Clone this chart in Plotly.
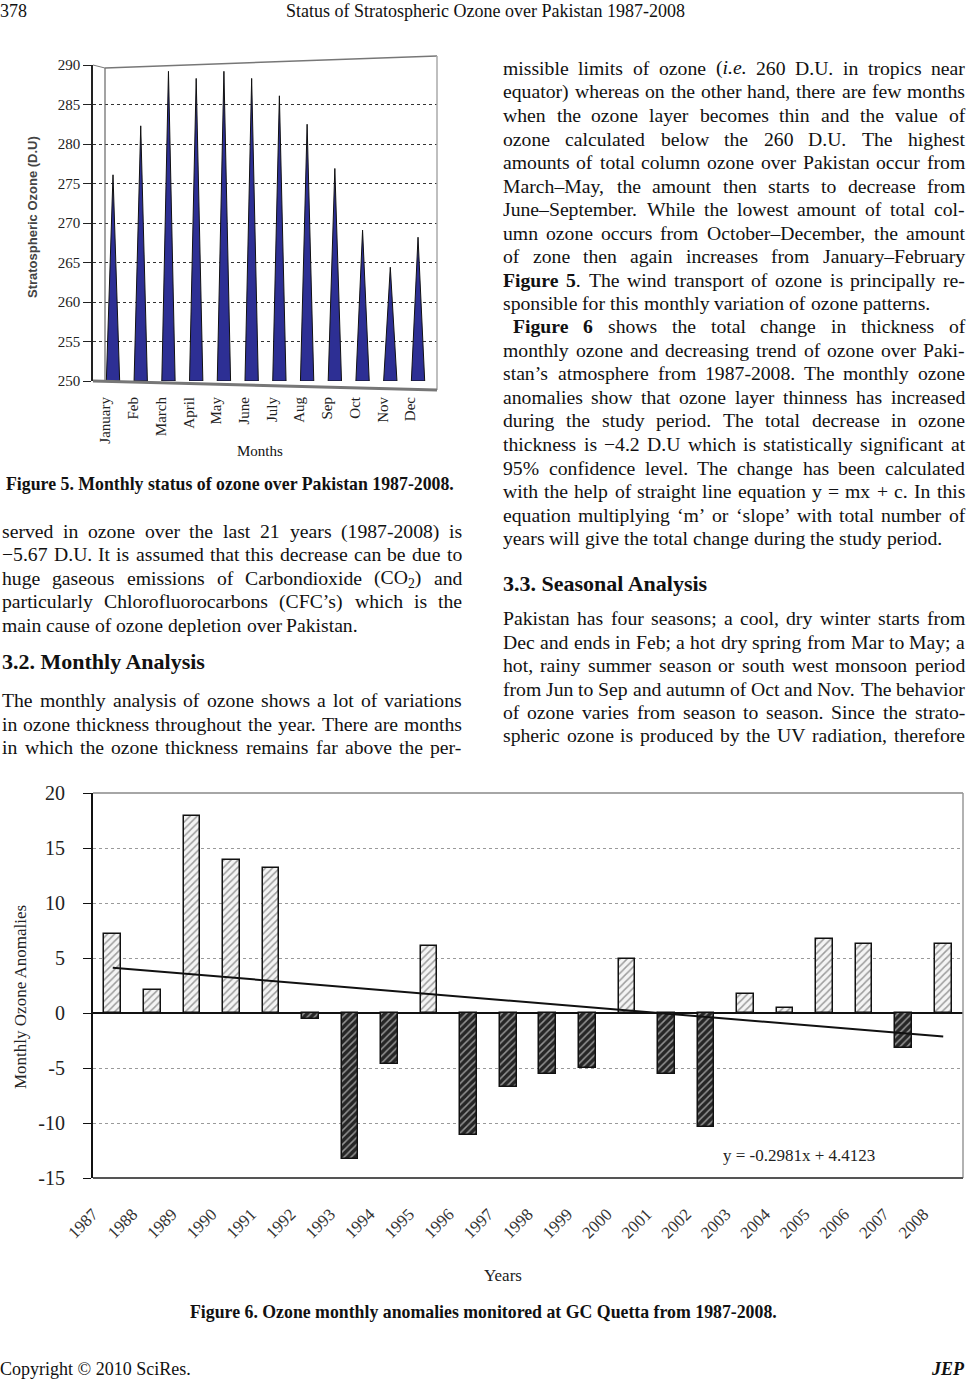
import plotly.graph_objects as go

# ---------------- data ----------------
months = ["January", "Feb", "March", "April", "May", "June", "July", "Aug", "Sep", "Oct", "Nov", "Dec"]
ozone_du = [276.1, 282.3, 289.2, 288.3, 289.2, 288.3, 286.1, 282.5, 276.9, 269.1, 264.4, 268.2]

years = ["1987", "1988", "1989", "1990", "1991", "1992", "1993", "1994", "1995", "1996", "1997",
         "1998", "1999", "2000", "2001", "2002", "2003", "2004", "2005", "2006", "2007", "2008"]
anomalies = [7.2, 2.1, 17.9, 13.9, 13.2, -0.5, -13.3, -4.6, 6.1, -11.1, -6.7,
             -5.5, -5.0, 4.9, -5.5, -10.4, 1.7, 0.5, 6.7, 6.3, -3.2, 6.3]
trend_slope = -0.2981
trend_intercept = 4.4123

f5_ticks = [250, 255, 260, 265, 270, 275, 280, 285, 290]
f6_ticks = [-15, -10, -5, 0, 5, 10, 15, 20]

# ---------------- page helpers ----------------
W, H = 967, 1386
def PX(x):
    return x / W
def PY(y):
    return 1 - y / H

SERIF = "Liberation Serif"
FS = 19.7

TR = {' ': 250, '!': 333, '"': 408, '%': 833, '&': 778, "'": 180, '(': 333, ')': 333, '*': 500, '+': 564,
      ',': 250, '-': 333, '.': 250, '/': 278, ':': 278, ';': 278, '=': 564, '?': 444,
      'A': 722, 'B': 667, 'C': 667, 'D': 722, 'E': 611, 'F': 556, 'G': 722, 'H': 722, 'I': 333, 'J': 389,
      'K': 722, 'L': 611, 'M': 889, 'N': 722, 'O': 722, 'P': 556, 'Q': 722, 'R': 667, 'S': 556, 'T': 611,
      'U': 722, 'V': 722, 'W': 944, 'X': 722, 'Y': 722, 'Z': 611,
      'a': 444, 'b': 500, 'c': 444, 'd': 500, 'e': 444, 'f': 333, 'g': 500, 'h': 500, 'i': 278, 'j': 278,
      'k': 500, 'l': 278, 'm': 778, 'n': 500, 'o': 500, 'p': 500, 'q': 500, 'r': 333, 's': 389, 't': 278,
      'u': 500, 'v': 500, 'w': 722, 'x': 500, 'y': 500, 'z': 444,
      '–': 500, '—': 1000, '−': 564, '‘': 333, '’': 333, '©': 760}
TB = {' ': 250, '(': 333, ')': 333, ',': 250, '-': 333, '.': 250, ':': 333, ';': 333,
      'A': 722, 'B': 667, 'C': 722, 'D': 722, 'E': 667, 'F': 611, 'G': 778, 'H': 778, 'I': 389, 'J': 500,
      'K': 778, 'L': 667, 'M': 944, 'N': 722, 'O': 778, 'P': 611, 'Q': 778, 'R': 722, 'S': 556, 'T': 667,
      'U': 722, 'V': 722, 'W': 1000, 'X': 722, 'Y': 722, 'Z': 667,
      'a': 500, 'b': 556, 'c': 444, 'd': 556, 'e': 444, 'f': 333, 'g': 500, 'h': 556, 'i': 278, 'j': 333,
      'k': 556, 'l': 278, 'm': 833, 'n': 556, 'o': 500, 'p': 556, 'q': 556, 'r': 444, 's': 389, 't': 333,
      'u': 556, 'v': 500, 'w': 722, 'x': 500, 'y': 500, 'z': 444}


def parse(line):
    words, cur, style = [], [], set()
    i = 0
    while i < len(line):
        if line[i] == '<':
            j = line.index('>', i)
            tag = line[i + 1:j]
            if tag.startswith('/'):
                style.discard(tag[1:])
            else:
                style.add(tag)
            i = j + 1
            continue
        ch = line[i]
        if ch == ' ':
            if cur:
                words.append(cur)
                cur = []
        else:
            cur.append((ch, frozenset(style)))
        i += 1
    if cur:
        words.append(cur)
    return words


def char_w(ch, st):
    table = TB if 'b' in st else TR
    w = table.get(ch, 500)
    if 'sub' in st:
        w *= 0.7
    return w


def word_width(word, size):
    return sum(char_w(c, s) for c, s in word) * size / 1000.0


def word_html(word):
    out, run, rst = [], "", None
    def flush(run, rst):
        if not run:
            return ""
        t = run
        for tag in ("sub", "i", "b"):
            if rst and tag in rst:
                t = "<%s>%s</%s>" % (tag, t, tag)
        return t
    for c, s in word:
        if s != rst:
            out.append(flush(run, rst))
            run, rst = "", s
        run += c
    out.append(flush(run, rst))
    return "".join(out)


annotations = []


def text_line(line, y, x0, x1, justify, indent=0, size=FS):
    words = parse(line)
    widths = [word_width(w, size) for w in words]
    start = x0 + indent
    if justify and len(words) > 1:
        gap = (x1 - start - sum(widths)) / (len(words) - 1)
    else:
        gap = 250 * size / 1000.0
    x = start
    for w, wd in zip(words, widths):
        annotations.append(dict(x=PX(x), y=PY(y), xref="paper", yref="paper", text=word_html(w),
                                showarrow=False, xanchor="left", yanchor="middle", borderpad=0, borderwidth=0,
                                font=dict(family=SERIF, size=size, color="#111")))
        x += wd + gap


def label(text, x, y, size, anchor="center", family=SERIF, color="#111", angle=0):
    annotations.append(dict(x=PX(x), y=PY(y), xref="paper", yref="paper", text=text, showarrow=False,
                            xanchor=anchor, yanchor="middle", borderpad=0, borderwidth=0, textangle=angle,
                            font=dict(family=family, size=size, color=color)))


# ---------------- page text ----------------
J, L = True, False
right_par1 = [
    ("missible limits of ozone (<i>i.e.</i> 260 D.U. in tropics near", J),
    ("equator) whereas on the other hand, there are few months", J),
    ("when the ozone layer becomes thin and the value of", J),
    ("ozone calculated below the 260 D.U. The highest", J),
    ("amounts of total column ozone over Pakistan occur from", J),
    ("March–May, the amount then starts to decrease from", J),
    ("June–September. While the lowest amount of total col-", J),
    ("umn ozone occurs from October–December, the amount", J),
    ("of zone then again increases from January–February", J),
    ("<b>Figure 5</b>. The wind transport of ozone is principally re-", J),
    ("sponsible for this monthly variation of ozone patterns.", L),
    ("<b>Figure 6</b> shows the total change in thickness of", J),
    ("monthly ozone and decreasing trend of ozone over Paki-", J),
    ("stan’s atmosphere from 1987-2008. The monthly ozone", J),
    ("anomalies show that ozone layer thinness has increased", J),
    ("during the study period. The total decrease in ozone", J),
    ("thickness is −4.2 D.U which is statistically significant at", J),
    ("95% confidence level. The change has been calculated", J),
    ("with the help of straight line equation y = mx + c. In this", J),
    ("equation multiplying ‘m’ or ‘slope’ with total number of", J),
    ("years will give the total change during the study period.", L),
]
right_par2 = [
    ("Pakistan has four seasons; a cool, dry winter starts from", J),
    ("Dec and ends in Feb; a hot dry spring from Mar to May; a", J),
    ("hot, rainy summer season or south west monsoon period", J),
    ("from Jun to Sep and autumn of Oct and Nov. The behavior", J),
    ("of ozone varies from season to season. Since the strato-", J),
    ("spheric ozone is produced by the UV radiation, therefore", J),
]
left_par1 = [
    ("served in ozone over the last 21 years (1987-2008) is", J),
    ("−5.67 D.U. It is assumed that this decrease can be due to", J),
    ("huge gaseous emissions of Carbondioxide (CO<sub>2</sub>) and", J),
    ("particularly Chlorofluorocarbons (CFC’s) which is the", J),
    ("main cause of ozone depletion over Pakistan.", L),
]
left_par2 = [
    ("The monthly analysis of ozone shows a lot of variations", J),
    ("in ozone thickness throughout the year. There are months", J),
    ("in which the ozone thickness remains far above the per-", J),
]

LH = 23.5
RX0, RX1 = 503, 965
LX0, LX1 = 2, 462
for k, (t, j) in enumerate(right_par1):
    text_line(t, 68 + LH * k, RX0, RX1, j, indent=10 if k == 11 else 0)
for k, (t, j) in enumerate(right_par2):
    text_line(t, 618 + LH * k, RX0, RX1, j)
for k, (t, j) in enumerate(left_par1):
    text_line(t, 531 + LH * k, LX0, LX1, j)
for k, (t, j) in enumerate(left_par2):
    text_line(t, 700 + LH * k, LX0, LX1, j)

label("<b>3.3. Seasonal Analysis</b>", RX0, 583, 22, anchor="left")
label("<b>3.2. Monthly Analysis</b>", LX0, 661, 22, anchor="left")

label("378", 0, 11, 18, anchor="left")
label("Status of Stratospheric Ozone over Pakistan 1987-2008", 485, 11, 18)
label("Copyright © 2010 SciRes.", 0, 1369, 18, anchor="left")
label("<b><i>JEP</i></b>", 965, 1369, 18, anchor="right")

label("<b>Figure 5. Monthly status of ozone over Pakistan 1987-2008.</b>", 230, 484, 17.8)
label("<b>Figure 6. Ozone monthly anomalies monitored at GC Quetta from 1987-2008.</b>", 483, 1312, 17.8)

# ---------------- figure ----------------
fig = go.Figure()

# Figure 5: cones
cone_hw = 0.24
for i, v in enumerate(ozone_du):
    fig.add_trace(go.Scatter(
        x=[i - cone_hw, i, i + cone_hw, i - cone_hw], y=[250, v, 250, 250],
        mode="lines", fill="toself", fillcolor="#2d2f94",
        line=dict(color="#111", width=1), hoverinfo="skip", xaxis="x", yaxis="y"))

# Figure 6: bars + trend
pos_bg, neg_bg = "#f4f4f4", "#262626"
pos_fg, neg_fg = "#333333", "#e6e6e6"
bar_bg = [pos_bg if v >= 0 else neg_bg for v in anomalies]
bar_fg = [pos_fg if v >= 0 else neg_fg for v in anomalies]
idx = list(range(len(years)))
fig.add_trace(go.Bar(
    x=idx, y=anomalies, width=0.42,
    marker=dict(color=bar_bg, line=dict(color="#111", width=1.5),
                pattern=dict(shape="/", fgcolor=bar_fg, size=5, solidity=0.3, fillmode="overlay")),
    xaxis="x2", yaxis="y2"))
tx = [idx[0], idx[-1]]
ty = [trend_slope * (x + 1) + trend_intercept for x in tx]
fig.add_trace(go.Scatter(x=tx, y=ty, mode="lines", line=dict(color="#111", width=2),
                         xaxis="x2", yaxis="y2", hoverinfo="skip"))

# axis geometry (pixels)
F5_L, F5_R, F5_T, F5_B = 93, 437, 65, 381
c0, cstep = 113, 27.73
F6_L, F6_R, F6_T, F6_B = 93, 963, 793, 1178

fig.update_layout(
    template="none",
    width=W, height=H, margin=dict(l=0, r=0, t=0, b=0, autoexpand=False),
    paper_bgcolor="white", plot_bgcolor="white", showlegend=False, bargap=0,
    xaxis=dict(domain=[PX(F5_L), PX(F5_R)], range=[(F5_L - c0) / cstep, (F5_R - c0) / cstep],
               tickvals=[i - 0.27 for i in range(len(months))], ticktext=months, tickangle=-90,
               tickfont=dict(family=SERIF, size=15, color="#222"), ticks="", showline=False,
               showgrid=False, zeroline=False, ticklabelstandoff=12, anchor="y", automargin=False),
    yaxis=dict(domain=[PY(F5_B), PY(F5_T)], range=[250, 290], tickvals=f5_ticks,
               ticktext=[str(v) for v in f5_ticks], ticks="outside", ticklen=8,
               tickcolor="#222", tickfont=dict(family=SERIF, size=15, color="#222"),
               showline=True, linecolor="#222", linewidth=1.5, showgrid=True, gridcolor="#333",
               griddash="dot", gridwidth=1, zeroline=False, anchor="x", automargin=False),
    xaxis2=dict(domain=[PX(F6_L), PX(F6_R)], range=[-0.5, len(years) - 0.5],
                tickvals=[i - 0.5 for i in idx], ticktext=years, tickangle=-45,
                tickfont=dict(family=SERIF, size=17, color="#333"), ticks="", showline=False,
                showgrid=False, zeroline=False, ticklabelstandoff=22, anchor="y2", automargin=False),
    yaxis2=dict(domain=[PY(F6_B), PY(F6_T)], range=[-15, 20], tickvals=f6_ticks,
                ticktext=[str(v) for v in f6_ticks], ticks="outside", ticklen=8,
                tickcolor="#111", tickfont=dict(family=SERIF, size=20, color="#222"),
                ticklabelstandoff=14, showline=True, linecolor="#111", linewidth=2,
                showgrid=True, gridcolor="#9a9a9a", griddash="dot", gridwidth=1,
                zeroline=True, zerolinecolor="#111", zerolinewidth=1.5, anchor="x2", automargin=False),
)

shapes = []
def seg(x0, y0, x1, y1, color, width, dash="solid"):
    shapes.append(dict(type="line", xref="paper", yref="paper", x0=PX(x0), y0=PY(y0), x1=PX(x1), y1=PY(y1),
                       line=dict(color=color, width=width, dash=dash), layer="above"))

# Figure 5 pseudo-3D frame
seg(105, 68, 105, 381, "#666", 1.2)
seg(105, 68, 437, 56, "#777", 1.5)
seg(437, 56, 437, 390, "#aaa", 1.5)
seg(93, 65, 105, 68, "#777", 1)
seg(93, 381, 437, 390, "#777", 3)
# Figure 6 frame
seg(F6_L, F6_T, F6_R, F6_T, "#888", 1.5)
seg(F6_R, F6_T, F6_R, F6_B, "#999", 1.5)
seg(F6_L, F6_B, F6_R, F6_B, "#555", 2)
fig.update_layout(shapes=shapes)

# axis titles and equation
label("<b>Stratospheric Ozone (D.U)</b>", 32, 217, 13, family="Liberation Sans", color="#444", angle=-90)
label("Months", 260, 451, 15)
label("Monthly Ozone Anomalies", 20, 997, 17, color="#222", angle=-90)
label("Years", 503, 1275, 17, color="#222")
label("y = -0.2981x + 4.4123", 799, 1155, 17, color="#222")

fig.update_layout(annotations=annotations)
fig.write_html(
    "out.html",
    config={"displayModeBar": False},
    post_script="document.body.style.margin='0px';document.body.style.padding='0px';"
                "document.body.style.overflow='hidden';",
)
